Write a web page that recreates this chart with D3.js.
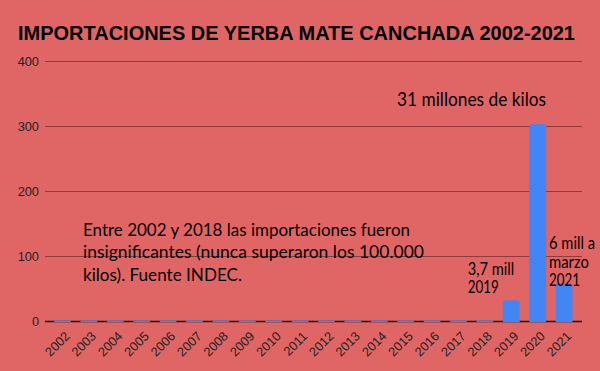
<!DOCTYPE html>
<html><head><meta charset="utf-8">
<script src="https://cdn.jsdelivr.net/npm/d3@7/dist/d3.min.js"></script>
<style>body{margin:0;background:#e06666;} svg{display:block;}</style>
</head><body><svg id="c" width="600" height="371"></svg>
<script>
const years = ["2002","2003","2004","2005","2006","2007","2008","2009","2010","2011","2012","2013","2014","2015","2016","2017","2018","2019","2020","2021"];
const values = [0.4,0.4,0.4,0.4,0.4,0.4,0.4,0.4,0.4,0.4,0.4,0.4,0.4,0.4,0.4,0.4,0.4,32,303,58];
const yTicks = [0,100,200,300,400];
const title = "IMPORTACIONES DE YERBA MATE CANCHADA 2002-2021";
const noteTop = "31 millones de kilos";
const noteMain = ["Entre 2002 y 2018 las importaciones fueron","insignificantes (nunca superaron los 100.000","kilos). Fuente INDEC."];
const note2019 = ["3,7 mill","2019"];
const note2021 = ["6 mill a","marzo","2021"];

const svg = d3.select("#c");
const W=600,H=371, GL=45, GR=582, T=61, B=321;
svg.append("rect").attr("width",W).attr("height",H).attr("fill","#e06666");
svg.append("text").attr("x",18).attr("y",40).text(title)
  .attr("font-family","Liberation Sans, Arial, sans-serif").attr("font-weight","bold")
  .attr("font-size",19.3).attr("fill","#000").attr("textLength",557).attr("lengthAdjust","spacingAndGlyphs");

const x = d3.scaleBand().domain(years).range([49.3,577.3]).paddingInner(0.36).paddingOuter(0.18);
const y = d3.scaleLinear().domain([0,400]).range([B,T]);

const ga = svg.append("g").attr("transform",`translate(${GL},0)`)
  .call(d3.axisLeft(y).tickValues(yTicks).tickSize(-(GR-GL)).tickPadding(6));
ga.select(".domain").remove();
ga.selectAll(".tick line").attr("stroke","#8e3b3b").attr("stroke-width",1);
ga.selectAll(".tick text").attr("font-family","Liberation Sans, Arial, sans-serif").attr("font-size",12.8).attr("fill","#222");

svg.append("line").attr("x1",GL).attr("x2",GR).attr("y1",B+0.5).attr("y2",B+0.5).attr("stroke","#111").attr("stroke-width",1.5);

const rr = 3;
svg.append("g").selectAll("path").data(years.map((d,i)=>({k:d,v:values[i]}))).join("path")
  .attr("fill","#4285f4")
  .attr("d",d=>{
    const x0=x(d.k), w=x.bandwidth(), y0=y(d.v), h=B-y0+1;
    const r=Math.min(rr,h);
    if (h<3) return `M${x0},${B-0.5}h${w}v1.5h${-w}Z`;
    return `M${x0},${B+1}V${y0+r}Q${x0},${y0} ${x0+r},${y0}H${x0+w-r}Q${x0+w},${y0} ${x0+w},${y0+r}V${B+1}Z`;
  });

const gx = svg.append("g").attr("transform",`translate(0,${B})`)
  .call(d3.axisBottom(x).tickSize(0));
gx.select(".domain").remove();
gx.selectAll(".tick text").attr("font-family","Liberation Sans, Arial, sans-serif").attr("font-size",12.8).attr("fill","#222")
  .attr("text-anchor","end").attr("x",0).attr("y",0).attr("dy",0).attr("transform","translate(8,16) rotate(-45)");

function note(lines, x0, y0, lh, size, widths){
  lines.forEach((l,i)=>{
    const t = svg.append("text").attr("font-family","Lato, Open Sans, sans-serif").attr("font-size",size).attr("fill","#000")
      .attr("x",x0).attr("y",y0+i*lh).text(l);
    if (widths[i]) t.attr("textLength",widths[i]).attr("lengthAdjust","spacingAndGlyphs");
  });
}
note([noteTop], 397, 105.7, 0, 19.5, [149]);
note(noteMain, 83, 235.7, 22.7, 18, [327, 341, 159]);
note(note2019, 467.7, 275, 18.3, 16.5, [46.6, 31]);
note(note2021, 549, 249.3, 18.3, 16.5, [46, 40, 31]);
</script></body></html>
